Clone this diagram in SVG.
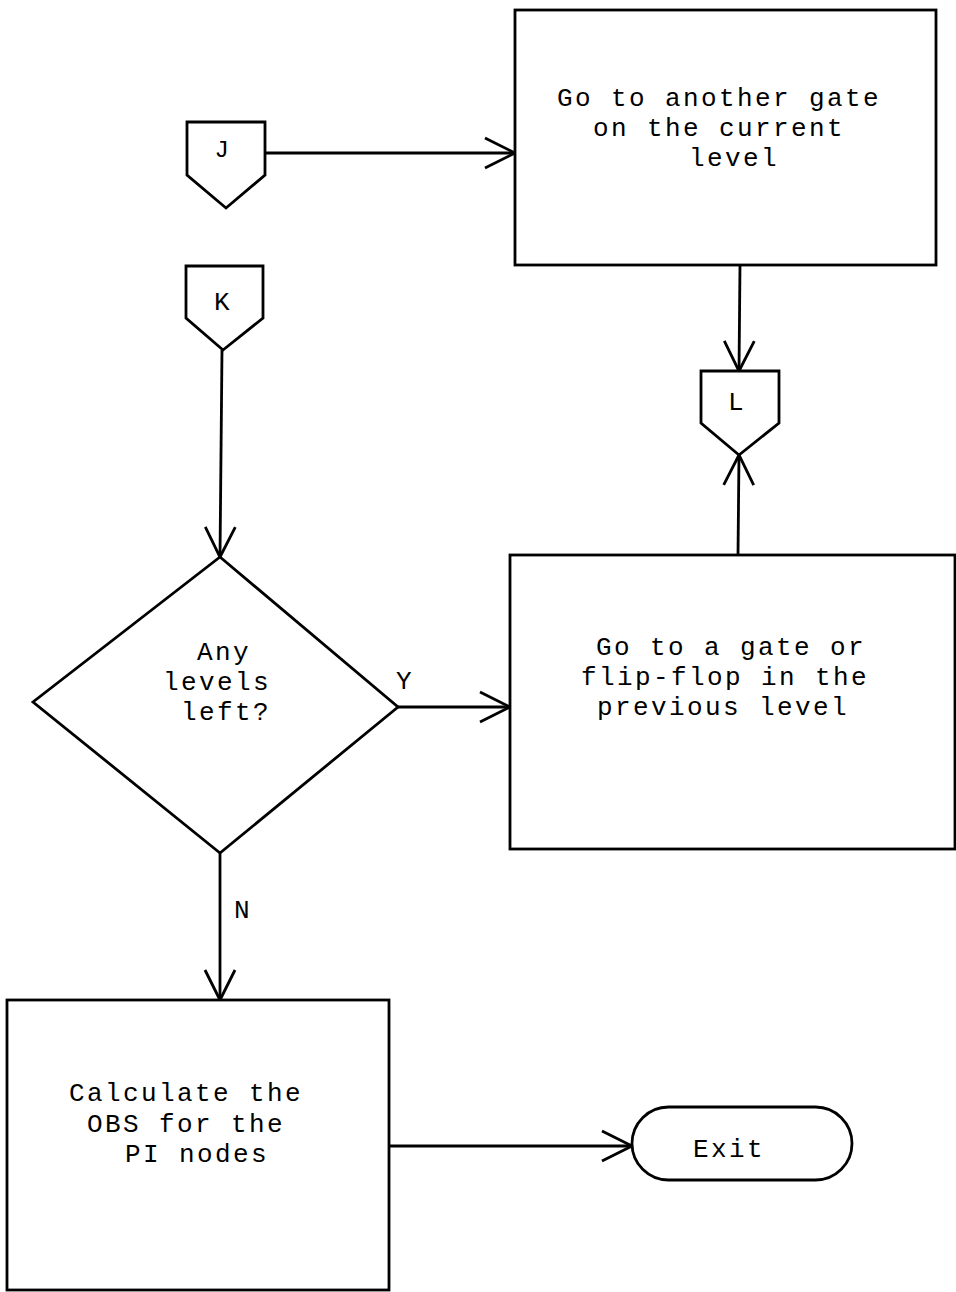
<svg xmlns="http://www.w3.org/2000/svg" width="956" height="1292" viewBox="0 0 956 1292">
<style>
.s{fill:#fff;stroke:#000;stroke-width:2.8;stroke-linejoin:miter}
.c{fill:none;stroke:#000;stroke-width:2.8}
.t{font-family:"Liberation Mono","Courier New",monospace;font-size:26px;letter-spacing:2.4px;fill:#000}
</style>
<defs>
<marker id="ah" markerUnits="userSpaceOnUse" markerWidth="40" markerHeight="40" refX="32" refY="16" orient="auto" viewBox="0 0 40 32">
<path d="M2,1 L32,16 L2,31" fill="none" stroke="#000" stroke-width="2.8"/>
</marker>
</defs>
<rect width="956" height="1292" fill="#fff"/>
<g id="connectors">
<line class="c" x1="265" y1="153" x2="515" y2="153" marker-end="url(#ah)"/>
<line class="c" x1="222" y1="350" x2="220" y2="557" marker-end="url(#ah)"/>
<line class="c" x1="740" y1="265" x2="739" y2="371" marker-end="url(#ah)"/>
<line class="c" x1="738" y1="555" x2="739" y2="455" marker-end="url(#ah)"/>
<line class="c" x1="398" y1="707" x2="510" y2="707" marker-end="url(#ah)"/>
<line class="c" x1="220" y1="853" x2="220" y2="1000" marker-end="url(#ah)"/>
<line class="c" x1="389" y1="1146" x2="632" y2="1146" marker-end="url(#ah)"/>
<text class="t" x="396" y="689">Y</text>
<text class="t" x="234" y="918">N</text>
</g>
<g id="J">
<polygon class="s" points="187,122 265,122 265,175 226,208 187,175"/>
<text class="t" x="223" y="157" text-anchor="middle" style="font-size:24px">J</text>
</g>
<g id="K">
<polygon class="s" points="186,266 263,266 263,318 223,350 186,318"/>
<text class="t" x="223" y="310" text-anchor="middle">K</text>
</g>
<g id="L">
<polygon class="s" points="701,371 779,371 779,423 739,455 701,423"/>
<text class="t" x="737" y="410" text-anchor="middle">L</text>
</g>
<g id="box-another-gate">
<rect class="s" x="515" y="10" width="421" height="255"/>
<text class="t" x="557" y="106">Go to another gate</text>
<text class="t" x="593" y="136">on the current</text>
<text class="t" x="689" y="166">level</text>
</g>
<g id="box-previous-level">
<rect class="s" x="510" y="555" width="445" height="294"/>
<text class="t" x="596" y="655">Go to a gate or</text>
<text class="t" x="581" y="685">flip-flop in the</text>
<text class="t" x="597" y="715">previous level</text>
</g>
<g id="decision">
<polygon class="s" points="220,557 398,707 220,853 33,702"/>
<text class="t" x="197" y="660">Any</text>
<text class="t" x="163" y="690">levels</text>
<text class="t" x="181" y="720">left?</text>
</g>
<g id="box-calculate">
<rect class="s" x="7" y="1000" width="382" height="290"/>
<text class="t" x="69" y="1101">Calculate the</text>
<text class="t" x="87" y="1132">OBS for the</text>
<text class="t" x="125" y="1162">PI nodes</text>
</g>
<g id="exit">
<rect class="s" x="632" y="1107" width="220" height="73" rx="36.5" ry="36.5"/>
<text class="t" x="693" y="1157">Exit</text>
</g>
</svg>
